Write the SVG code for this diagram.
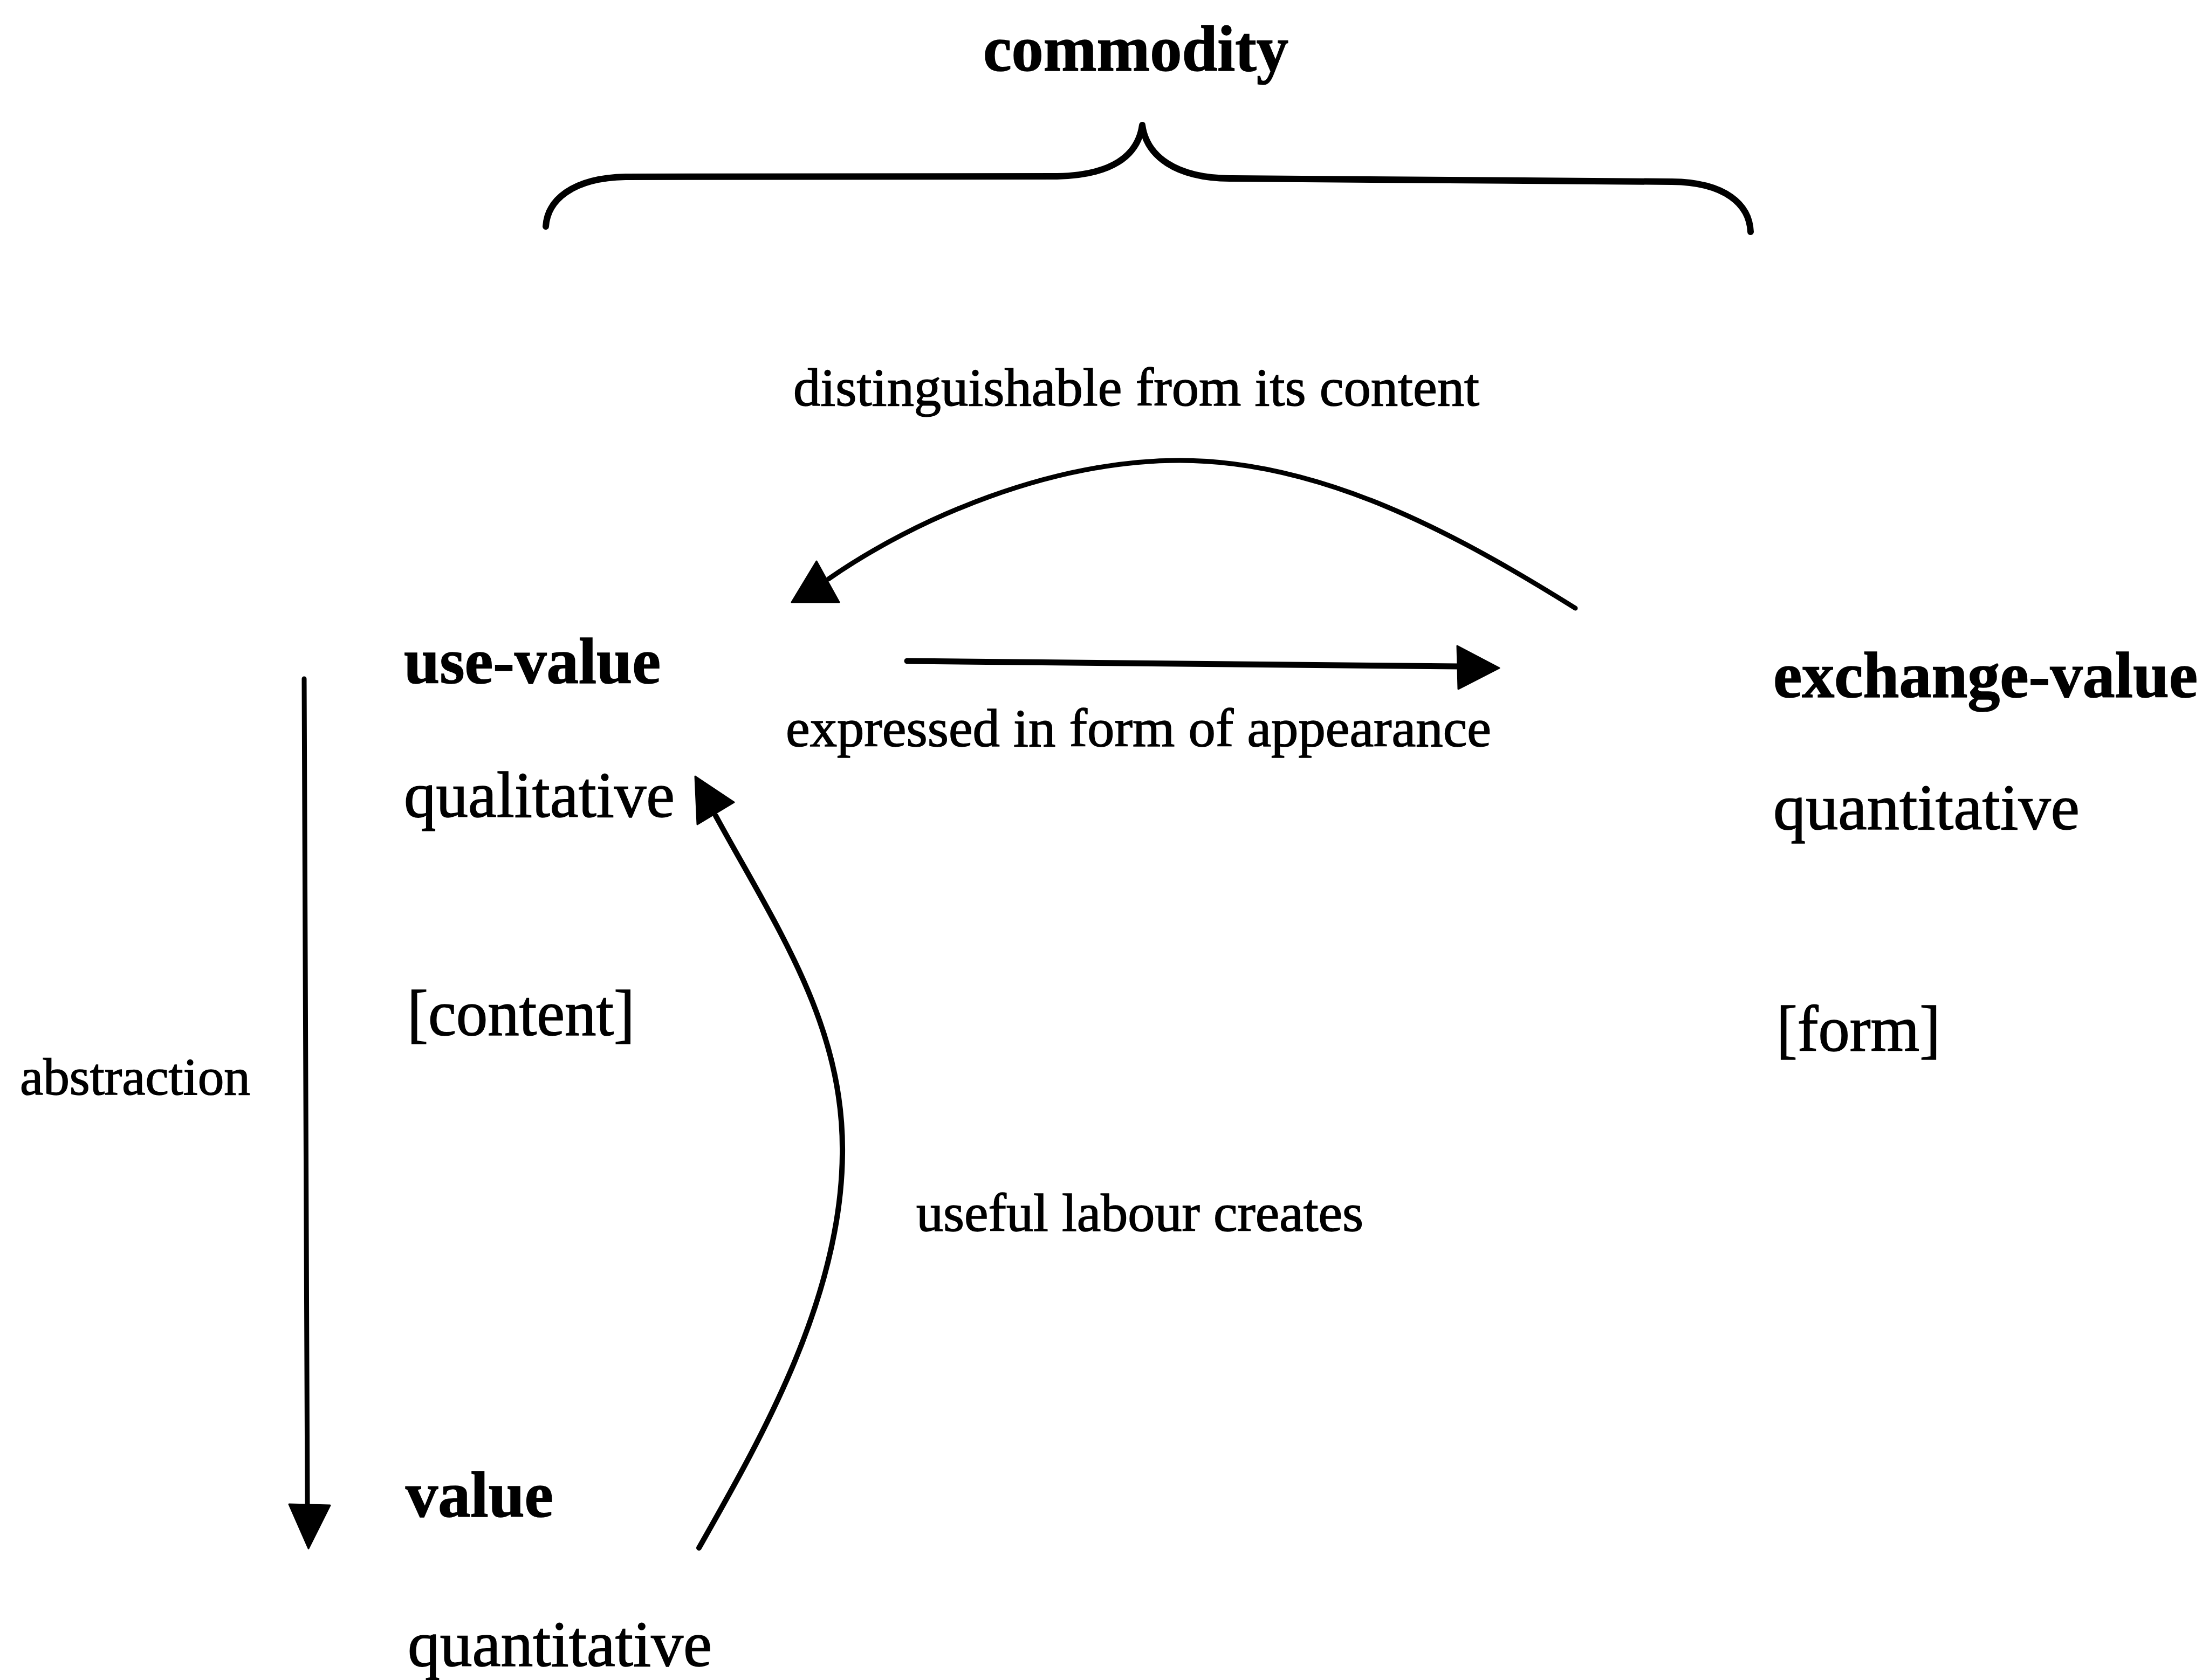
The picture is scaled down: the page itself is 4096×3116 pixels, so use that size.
<svg xmlns="http://www.w3.org/2000/svg" width="4096" height="3116" viewBox="0 0 4096 3116">
<style>
.bg{fill:#ffffff}
.t{font-family:"Liberation Serif","Times New Roman",serif;fill:#000;stroke:#000;stroke-width:1.5}
.b{font-weight:bold;font-size:120px}
.r{font-size:120px}
.s{font-size:100px}
.ln{fill:none;stroke:#000;stroke-linecap:round;stroke-linejoin:round}
.hd{fill:#000;stroke:#000;stroke-width:3;stroke-linejoin:round}
</style>
<rect class="bg" x="0" y="0" width="4096" height="3116"/>
<g id="connectors">
  <path id="brace" class="ln" stroke-width="12" d="M1012,420 C1015,372 1060,330 1160,328 L1960,327 C2060,325 2110,290 2118,232 C2126,290 2180,330 2280,331 L3100,337 C3200,338 3244,380 3246,430"/>
  <g id="arc-distinguishable">
    <path class="ln" stroke-width="9" d="M2921,1128 C2700,990 2450,854 2188,854 C1950,854 1700,960 1536,1074"/>
    <polygon class="hd" points="1514,1041 1468,1117 1556,1117"/>
  </g>
  <g id="arrow-expressed">
    <path class="ln" stroke-width="11" d="M1682,1226 L2706,1236"/>
    <polygon class="hd" points="2702,1198 2704,1278 2780,1239"/>
  </g>
  <g id="arrow-abstraction">
    <path class="ln" stroke-width="9" d="M564,1259 L570,2792"/>
    <polygon class="hd" points="536,2790 612,2792 572,2872"/>
  </g>
  <g id="arrow-useful-labour">
    <path class="ln" stroke-width="10" d="M1296,2871 C1410,2670 1560,2410 1562,2140 C1565,1900 1440,1720 1327,1513"/>
    <polygon class="hd" points="1289,1440 1293,1529 1361,1488"/>
  </g>
</g>
<g id="commodity"><text class="t b" x="1823" y="131" textLength="566" lengthAdjust="spacingAndGlyphs" font-size="118">commodity</text></g>
<g id="label-distinguishable"><text class="t s" x="1471" y="752" textLength="1272" lengthAdjust="spacingAndGlyphs">distinguishable from its content</text></g>
<g id="use-value">
  <text class="t b" x="749" y="1267" textLength="476" lengthAdjust="spacingAndGlyphs">use-value</text>
  <text class="t r" x="749" y="1515" textLength="502" lengthAdjust="spacingAndGlyphs">qualitative</text>
  <text class="t r" x="755" y="1920" textLength="422" lengthAdjust="spacingAndGlyphs">[content]</text>
</g>
<g id="label-expressed"><text class="t s" x="1457" y="1384" textLength="1308" lengthAdjust="spacingAndGlyphs">expressed in form of appearance</text></g>
<g id="exchange-value">
  <text class="t b" x="3288" y="1293" textLength="787" lengthAdjust="spacingAndGlyphs">exchange-value</text>
  <text class="t r" x="3288" y="1538" textLength="568" lengthAdjust="spacingAndGlyphs">quantitative</text>
  <text class="t r" x="3294" y="1949" textLength="304" lengthAdjust="spacingAndGlyphs">[form]</text>
</g>
<g id="label-abstraction"><text class="t" font-size="98" x="37" y="2030" textLength="427" lengthAdjust="spacingAndGlyphs">abstraction</text></g>
<g id="label-useful-labour"><text class="t s" x="1699" y="2283" textLength="829" lengthAdjust="spacingAndGlyphs">useful labour creates</text></g>
<g id="value">
  <text class="t b" x="752" y="2813" textLength="274" lengthAdjust="spacingAndGlyphs">value</text>
  <text class="t r" x="756" y="3090" textLength="564" lengthAdjust="spacingAndGlyphs">quantitative</text>
</g>
</svg>
